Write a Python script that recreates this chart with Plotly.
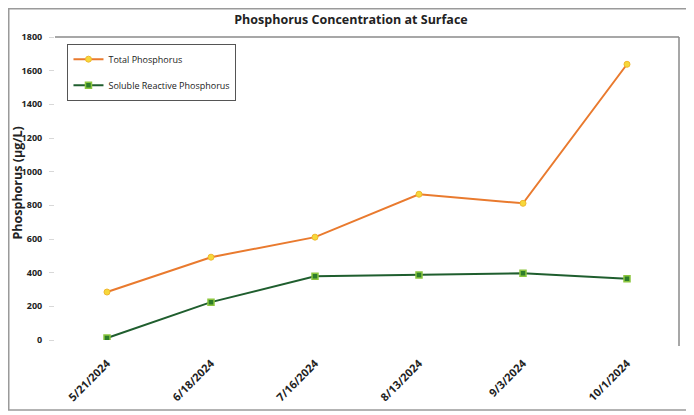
import plotly.graph_objects as go

# ── Dados ─────────────────────────────────────────────────────────────────────
dates = ["5/21/2024", "6/18/2024", "7/16/2024", "8/13/2024", "9/3/2024", "10/1/2024"]
total_p = [285, 492, 611, 866, 812, 1638]
srp = [12, 225, 378, 386, 396, 364]

FONT = "'Open Sans', 'Liberation Sans', sans-serif"

fig = go.Figure()
fig.add_trace(go.Scatter(
    x=dates, y=total_p, name="Total Phosphorus", mode="lines+markers",
    legendgroup="tp",
    line=dict(color="#E97A2E", width=2),
    marker=dict(symbol="circle", size=6, color="#F6D83A",
                line=dict(color="#F0B830", width=1)),
))
fig.add_trace(go.Scatter(
    x=dates, y=srp, name="Soluble Reactive Phosphorus", mode="lines+markers",
    legendgroup="srp",
    line=dict(color="#1F5E2E", width=2),
    marker=dict(symbol="square", size=6, color="#2E7D2A",
                line=dict(color="#8CC63F", width=1.5)),
))

# borda do gráfico e linhas do plot area (topo e direita)
shapes = [
    dict(type="rect", xref="paper", yref="paper", x0=-0.0741, x1=1.0176, y0=-0.231, y1=1.0932,
         line=dict(color="#9A9A9A", width=1.5)),
    dict(type="line", xref="paper", yref="paper", x0=0, x1=1, y0=1, y1=1,
         line=dict(color="#8A8A8A", width=1.5)),
    dict(type="line", xref="paper", yref="paper", x0=1, x1=1, y0=-0.02, y1=1,
         line=dict(color="#8A8A8A", width=1.5)),
]

# título do eixo y como anotação (posição fixa)
y_title = dict(
    text="Phosphorus (µg/L)", textangle=-90, showarrow=False,
    xref="paper", yref="paper", x=-0.0601, y=0.518,
    xanchor="center", yanchor="middle", borderpad=0,
    font=dict(size=12.5, family=FONT, weight="bold", color="#222222"),
)

# a página tem margem de 8px no body, então a figura é 8px menor
fig.update_layout(
    width=686, height=407,
    paper_bgcolor="white", plot_bgcolor="white",
    font=dict(family=FONT, color="#222222"),
    margin=dict(l=47, r=15, t=29, b=75, autoexpand=False),
    title=dict(text="Phosphorus Concentration at Surface", x=0.5, xanchor="center",
               y=0.9705, yanchor="middle",
               font=dict(size=12.5, color="#222222", family=FONT, weight="bold")),
    xaxis=dict(
        type="category", range=[-0.5, 5.5], automargin=False,
        showgrid=False, showline=False, zeroline=False,
        tickangle=-45, tickfont=dict(size=11, family=FONT, weight="bold"),
        ticks="", ticklabelstandoff=14,
    ),
    yaxis=dict(
        range=[0, 1800], dtick=200, automargin=False,
        showgrid=False, showline=False, zeroline=False,
        ticks="outside", ticklen=5, tickcolor="#D8D8D8",
        ticklabelstandoff=5,
        tickfont=dict(size=9, family=FONT, weight="bold"),
    ),
    legend=dict(
        x=0.02, y=0.978, xanchor="left", yanchor="top",
        bgcolor="white", bordercolor="#555555", borderwidth=1,
        font=dict(size=9, family=FONT), tracegroupgap=7,
    ),
    annotations=[y_title],
    shapes=shapes,
)

fig.write_html("out.html")
